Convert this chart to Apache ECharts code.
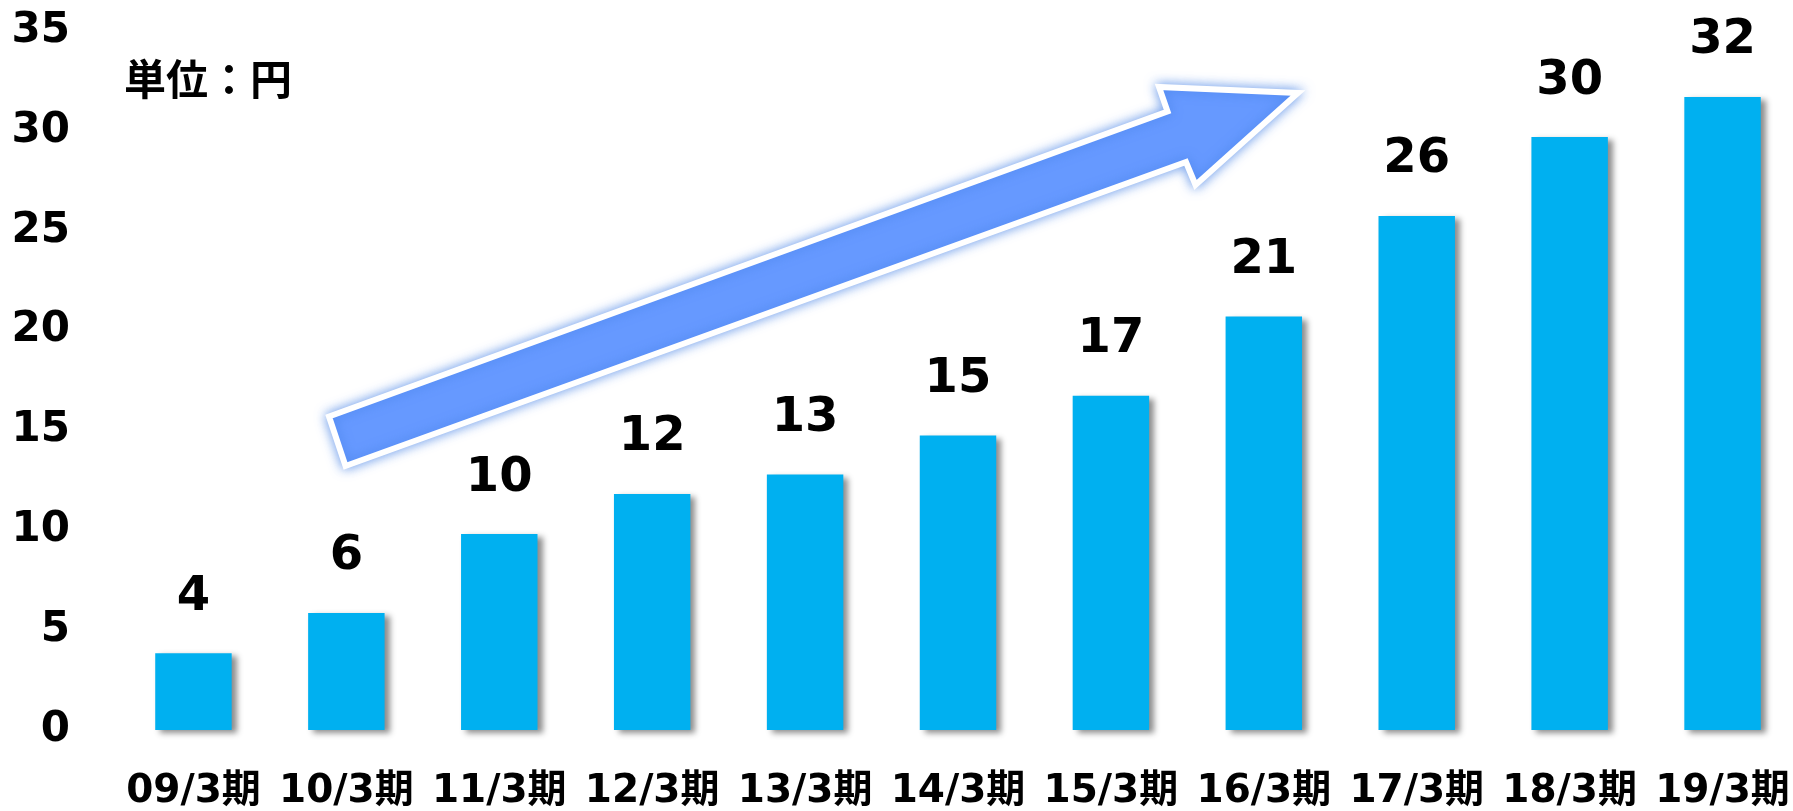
<!DOCTYPE html>
<html>
<head>
<meta charset="utf-8">
<script src="https://cdn.jsdelivr.net/npm/echarts@6/dist/echarts.min.js"></script>
<style>
  html, body { margin: 0; padding: 0; background: #fff; overflow: hidden; }
  #chart { width: 1806px; height: 811px; }
</style>
</head>
<body>
<div id="chart"></div>
<script>
// fiscal periods
const periods = ['09/3期', '10/3期', '11/3期', '12/3期', '13/3期', '14/3期', '15/3期', '16/3期', '17/3期', '18/3期', '19/3期'];
// dividend per share (yen), bar heights as drawn
const dividends = [3.84, 5.86, 9.81, 11.82, 12.79, 14.74, 16.74, 20.7, 25.74, 29.69, 31.7];
// labels printed above the bars
const dividendLabels = ['4', '6', '10', '12', '13', '15', '17', '21', '26', '30', '32'];
const unitText = '単位：円';

const fontFamily = '"DejaVu Sans", "Noto Sans CJK JP", sans-serif';

const chart = echarts.init(document.getElementById('chart'));

const option = {
  animation: false,
  backgroundColor: '#ffffff',
  grid: {
    left: 117,
    top: 31,
    width: 1682,
    bottom: 81,
    containLabel: false
  },
  xAxis: {
    type: 'category',
    data: periods,
    axisLine: { show: false },
    axisTick: { show: false },
    axisLabel: {
      margin: 42,
      color: '#000',
      fontFamily: fontFamily,
      fontWeight: 'bold',
      fontSize: 39,
      interval: 0
    }
  },
  yAxis: {
    type: 'value',
    min: 0,
    max: 35,
    interval: 5,
    axisLine: { show: false },
    axisTick: { show: false },
    splitLine: { show: false },
    axisLabel: {
      margin: 47,
      color: '#000',
      fontFamily: fontFamily,
      fontWeight: 'bold',
      fontSize: 42
    }
  },
  series: [{
    type: 'bar',
    data: dividends,
    barCategoryGap: '50%',
    itemStyle: {
      color: '#00B0F0',
      shadowColor: 'rgba(0, 0, 0, 0.45)',
      shadowBlur: 6,
      shadowOffsetX: 5,
      shadowOffsetY: 3
    },
    label: {
      show: true,
      position: 'top',
      distance: 32,
      color: '#000',
      fontFamily: fontFamily,
      fontWeight: 'bold',
      fontSize: 48,
      formatter: (p) => dividendLabels[p.dataIndex]
    }
  }],
  graphic: [
    {
      type: 'text',
      left: 124,
      top: 58,
      style: {
        text: unitText,
        fill: '#000',
        font: 'bold 42px "Noto Sans CJK JP", sans-serif'
      }
    },
    {
      // trend arrow
      type: 'polygon',
      z: 5,
      shape: {
        points: [
          [329, 416.5],
          [1167.5, 111.5],
          [1159, 87],
          [1298, 93],
          [1195.5, 185],
          [1186, 162],
          [345.5, 466]
        ]
      },
      style: {
        fill: '#6699FF',
        stroke: '#ffffff',
        lineWidth: 6,
        lineJoin: 'miter',
        shadowBlur: 12,
        shadowColor: 'rgba(70, 130, 230, 0.75)'
      }
    }
  ]
};

chart.setOption(option);

window.addEventListener('resize', () => chart.resize());
</script>
</body>
</html>
